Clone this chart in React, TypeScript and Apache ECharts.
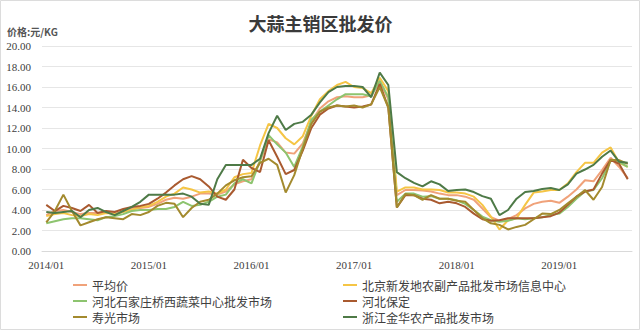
import React, { useEffect, useRef } from "react";
import * as echarts from "echarts";

const years = ["2014", "2015", "2016", "2017", "2018", "2019"];
const monthsNum = ["01", "02", "03", "04", "05", "06", "07", "08", "09", "10", "11", "12"];
const categories: string[] = [];
years.forEach((y) => monthsNum.forEach((m) => categories.push(`${y}/${m}`)));
categories.splice(69);

const seriesNames = [
  "平均价",
  "北京新发地农副产品批发市场信息中心",
  "河北石家庄桥西蔬菜中心批发市场",
  "河北保定",
  "寿光市场",
  "浙江金华农产品批发市场",
];

const avgPrice = [
  3.5, 3.9, 4.0, 3.8, 3.6, 3.7, 3.7, 3.8, 3.6, 3.9, 4.1, 4.2,
  4.3, 4.6, 5.0, 5.2, 5.1, 5.3, 5.6, 5.6, 5.5, 5.8, 6.5, 6.8,
  7.0, 8.8, 10.9, 10.6, 9.6, 9.5, 10.5, 12.6, 13.9, 14.6, 15.0, 15.1,
  15.0, 15.0, 15.2, 16.6, 14.8, 5.45, 5.95, 5.95, 5.9, 5.8, 5.6, 5.45,
  5.45, 5.3, 5.0, 4.15, 3.3, 2.95, 3.1, 3.5, 4.15, 4.6, 4.8, 4.9,
  4.7, 5.3, 6.0, 6.9, 6.8, 7.9, 9.1, 8.2, 7.1,
];
const beijingXinfadi = [
  3.4, 3.6, 3.7, 3.5, 3.4, 3.6, 3.5, 3.7, 3.6, 3.8, 4.0, 4.3,
  4.4, 4.8, 5.3, 5.6, 6.2, 6.0, 5.7, 5.8, 5.6, 6.0, 7.2, 7.5,
  7.6, 10.3, 12.4, 12.0, 11.0, 10.4, 11.2, 13.2, 14.8, 15.6, 16.2, 16.5,
  16.0, 15.9, 15.4, 16.9, 15.6, 5.8, 6.2, 6.2, 6.0, 6.0, 5.95, 5.7,
  5.7, 5.6, 5.3, 4.5, 3.35, 2.1, 3.0, 3.2, 4.5, 5.7, 5.8, 5.95,
  5.95, 6.6, 7.7, 8.6, 8.6, 9.6, 10.1, 8.6, 8.2,
];
const hebeiShijiazhuang = [
  2.7, 2.9, 3.1, 3.2, 3.2, 3.1, 3.0, 3.3, 3.4, 3.6, 3.9, 4.0,
  4.0, 4.1, 4.1, 4.3, 4.8, 4.4, 4.5, 4.8, 5.3, 5.5, 6.6, 7.0,
  6.6, 8.8, 11.3, 10.4, 9.6, 8.2, 10.2, 12.8, 13.6, 14.2, 14.8, 15.3,
  15.3, 15.3, 15.1, 16.6, 15.0, 4.8, 5.6, 5.6, 5.3, 5.35, 5.1, 5.1,
  4.95, 4.6, 4.0, 3.35, 3.0, 2.85, 2.95, 3.2, 3.1, 3.2, 3.3, 3.5,
  3.65, 4.3, 5.1, 5.8, 5.95, 7.1, 8.8, 8.7, 8.2,
];
const hebeiBaoding = [
  4.5, 3.9, 4.4, 4.2, 3.9, 4.5, 3.7, 3.9, 3.8, 4.1, 4.3, 4.4,
  4.6, 5.1, 5.7, 6.4, 7.0, 7.3, 7.0, 6.3, 5.3, 5.0, 6.0, 8.9,
  8.1, 7.7, 10.8, 9.2, 7.5, 7.9, 9.8, 12.0, 13.3, 13.9, 14.2, 14.1,
  14.0, 14.1, 14.3, 16.3, 14.0, 4.25, 5.45, 5.45, 5.1, 5.0, 4.65, 4.8,
  4.65, 4.3, 3.65, 3.1, 2.95, 3.0, 3.2, 3.2, 3.2, 3.2, 3.3, 3.4,
  3.75, 4.5, 5.3, 5.8, 6.0, 7.55, 8.9, 8.5, 7.0,
];
const shouguang = [
  2.8, 3.9, 5.5, 3.9, 2.5, 2.8, 3.1, 3.3, 3.2, 3.1, 3.6, 3.5,
  3.8, 4.4, 4.7, 4.6, 3.3, 4.2, 4.8, 5.0, 5.6, 6.4, 6.9, 7.2,
  7.3, 8.6, 9.0, 8.4, 5.7, 7.4, 10.0, 12.4, 13.6, 14.0, 14.2, 14.1,
  14.2, 14.0, 14.3, 16.0, 14.0, 4.25, 5.55, 5.45, 5.0, 5.45, 5.1, 5.1,
  4.9, 4.8, 4.0, 3.2, 2.7, 2.55, 2.1, 2.35, 2.55, 3.1, 3.65, 3.6,
  4.0, 4.65, 5.3, 5.95, 5.0, 6.25, 8.9, 8.85, 8.5,
];
const zhejiangJinhua = [
  3.8, 3.7, 3.8, 3.9, 3.3, 4.0, 4.2, 3.8, 3.5, 3.9, 4.3, 4.8,
  5.5, 5.5, 5.5, 5.5, 5.6, 5.3, 4.6, 4.5, 7.0, 8.4, 8.4, 8.4,
  8.4, 9.0, 11.5, 13.2, 11.8, 12.4, 12.6, 13.3, 14.5, 15.5, 16.0, 16.1,
  16.1, 16.0, 15.0, 17.4, 16.2, 7.7, 7.1, 6.65, 6.3, 6.8, 6.5, 5.85,
  5.95, 6.0, 5.75, 5.35, 5.1, 3.5, 4.0, 5.1, 5.75, 5.85, 6.05, 6.15,
  5.95, 6.5, 7.55, 7.95, 8.4, 9.2, 9.8, 8.7, 8.6,
];

const seriesData = [avgPrice, beijingXinfadi, hebeiShijiazhuang, hebeiBaoding, shouguang, zhejiangJinhua];
const colors = ["#F0A27A", "#F5C545", "#8DC46F", "#A95A30", "#A38A2E", "#4E7A47"];

const legendPos = [
  { left: 73, top: 285 },
  { left: 343, top: 285 },
  { left: 73, top: 301 },
  { left: 343, top: 301 },
  { left: 73, top: 317 },
  { left: 343, top: 317 },
];

export default function App() {
  const ref = useRef<HTMLDivElement>(null);
  useEffect(() => {
    if (!ref.current) return;
    const chart = echarts.init(ref.current, undefined, { renderer: "svg" });
    const serif = "'Liberation Serif', 'Noto Sans CJK SC', serif";
    const cjk = "'Noto Sans CJK SC', sans-serif";
    chart.setOption({
      animation: false,
      color: colors,
      title: {
        text: "大蒜主销区批发价",
        left: "center",
        top: 9,
        textStyle: { fontFamily: cjk, fontSize: 18, fontWeight: "bold", color: "#3a3a3a" },
      },
      graphic: [
        {
          type: "rect",
          shape: { x: 0.5, y: 0.5, width: 639, height: 329 },
          style: { fill: "none", stroke: "#dcdcdc", lineWidth: 1 },
          silent: true,
        },
        {
          type: "text",
          left: 7,
          top: 26,
          style: { text: "价格:元/KG", fontFamily: cjk, fontSize: 10, fontWeight: "bold", fill: "#555" },
        },
      ],
      legend: seriesNames.map((n, i) => ({
        data: [n],
        left: legendPos[i].left,
        top: legendPos[i].top - 7,
        icon: "rect",
        itemWidth: 14,
        itemHeight: 2,
        padding: 0,
        textStyle: { fontFamily: cjk, fontSize: 12, color: "#404040", lineHeight: 14 },
      })),
      grid: { left: 42, right: 9, top: 46, bottom: 80, containLabel: false },
      xAxis: {
        type: "category",
        data: categories,
        boundaryGap: true,
        axisLine: { show: true, lineStyle: { color: "#d9d9d9" } },
        axisTick: { show: false },
        axisLabel: {
          interval: 11,
          margin: 8,
          fontFamily: serif,
          fontSize: 11,
          color: "#404040",
        },
      },
      yAxis: {
        type: "value",
        min: 0,
        max: 20,
        interval: 2,
        axisLine: { show: false },
        axisTick: { show: false },
        splitLine: { lineStyle: { color: "#e6e6e6" } },
        axisLabel: {
          margin: 11,
          fontFamily: serif,
          fontSize: 11,
          color: "#404040",
          formatter: (v: number) => v.toFixed(2),
        },
      },
      series: seriesNames.map((n, i) => ({
        name: n,
        type: "line",
        data: seriesData[i],
        symbol: "none",
        lineStyle: { width: 2, color: colors[i] },
        itemStyle: { color: colors[i] },
      })),
    });
    return () => chart.dispose();
  }, []);
  return (
    <div
      ref={ref}
      style={{ position: "absolute", left: 0, top: 0, width: 641, height: 331, background: "#fff" }}
    />
  );
}
